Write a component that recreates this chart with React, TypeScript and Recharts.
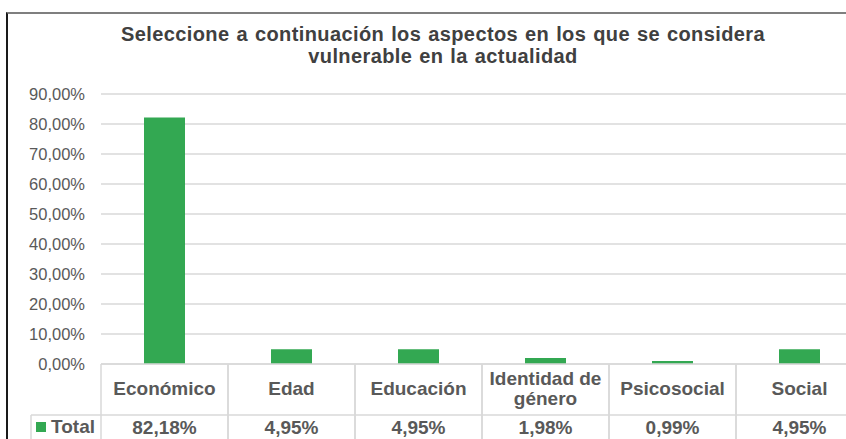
import React from "react";
import { BarChart, Bar, XAxis, YAxis, CartesianGrid } from "recharts";

const title = ["Seleccione a continuación los aspectos en los que se considera", "vulnerable en la actualidad"];
const categories = ["Económico", "Edad", "Educación", "Identidad de género", "Psicosocial", "Social"];
const categoryLines = [["Económico"], ["Edad"], ["Educación"], ["Identidad de", "género"], ["Psicosocial"], ["Social"]];
const seriesName = "Total";
const totals = [0.8218, 0.0495, 0.0495, 0.0198, 0.0099, 0.0495];
const yTicks = [0, 0.1, 0.2, 0.3, 0.4, 0.5, 0.6, 0.7, 0.8, 0.9];

const GREEN = "#33a852";
const GRID = "#d9d9d9";
const TEXT = "#595959";
const FONT = "'Liberation Sans', Arial, sans-serif";

const data = categories.map((c, i) => ({ name: c, value: totals[i] }));

const fmtPct = (v: number) => (v * 100).toFixed(2).replace(".", ",") + "%";

const TableTick = (props: any) => {
  const { x, y, payload, index } = props;
  const half = payload && payload.offset ? payload.offset : 63.5;
  const left = x - half;
  const right = x + half;
  const rowY = y + 51;
  const bottom = y + 120;
  const lines = categoryLines[index] || [String(payload.value)];
  const multi = lines.length > 1;
  return (
    <g>
      <line x1={left} x2={left} y1={y} y2={bottom} stroke={GRID} strokeWidth={1.5} />
      <line x1={right} x2={right} y1={y} y2={bottom} stroke={GRID} strokeWidth={1.5} />
      <line x1={left} x2={right} y1={rowY} y2={rowY} stroke={GRID} strokeWidth={1.5} />
      {lines.map((l: string, k: number) => (
        <text
          key={k}
          x={x}
          y={multi ? y + 21 + k * 20 : y + 31}
          textAnchor="middle"
          fill={TEXT}
          fontFamily={FONT}
          fontWeight="bold"
          fontSize={19}
        >
          {l}
        </text>
      ))}
      <text x={x} y={y + 70} textAnchor="middle" fill={TEXT} fontFamily={FONT} fontWeight="bold" fontSize={19}>
        {fmtPct(totals[index])}
      </text>
      {index === 0 && (
        <g>
          <line x1={31} x2={left} y1={rowY} y2={rowY} stroke={GRID} strokeWidth={1.5} />
          <line x1={31} x2={31} y1={rowY} y2={bottom} stroke={GRID} strokeWidth={1.5} />
          <rect x={36} y={y + 58} width={10} height={10} fill={GREEN} />
          <text x={51} y={y + 69} fill={TEXT} fontFamily={FONT} fontWeight="bold" fontSize={19}>
            {seriesName}
          </text>
        </g>
      )}
    </g>
  );
};

const YTick = (props: any) => {
  const { x, y, payload } = props;
  return (
    <text x={x} y={y} dy={6} textAnchor="end" fill={TEXT} fontFamily={FONT} fontSize={16.5}>
      {fmtPct(payload.value)}
    </text>
  );
};

export default function App() {
  return (
    <div
      style={{
        position: "fixed",
        left: 0,
        top: 0,
        width: 846,
        height: 439,
        overflow: "hidden",
        background: "#fff",
      }}
    >
      <div
        style={{
          position: "absolute",
          left: 6,
          top: 12,
          width: 900,
          height: 440,
          borderTop: "2px solid #7f7f7f",
          borderLeft: "2px solid #1a1a1a",
        }}
      />
      <div
        style={{
          position: "absolute",
          left: 143,
          top: 23,
          width: 600,
          textAlign: "center",
          fontFamily: FONT,
          fontWeight: "bold",
          fontSize: 20,
          lineHeight: "22px",
          letterSpacing: 0.4,
          wordSpacing: 1,
          color: "#404040",
          whiteSpace: "nowrap",
          display: "flex",
          flexDirection: "column",
          alignItems: "center",
        }}
      >
        {title.map((t, i) => (
          <div key={i}>{t}</div>
        ))}
      </div>
      <div style={{ position: "absolute", left: 0, top: 0 }}>
        <BarChart
          width={900}
          height={460}
          data={data}
          margin={{ top: 94, right: 37, bottom: 0, left: 0 }}
        >
          <CartesianGrid vertical={false} stroke={GRID} strokeWidth={1.5} />
          <XAxis
            dataKey="name"
            interval={0}
            tickLine={false}
            tickSize={0}
            tickMargin={0}
            axisLine={{ stroke: GRID, strokeWidth: 1.5 }}
            height={96}
            tick={<TableTick />}
          />
          <YAxis
            domain={[0, 0.9]}
            ticks={yTicks}
            width={101}
            axisLine={false}
            tickLine={false}
            tickSize={0}
            tickMargin={16}
            tick={<YTick />}
          />
          <Bar dataKey="value" name={seriesName} fill={GREEN} barSize={41} isAnimationActive={false} />
        </BarChart>
      </div>
    </div>
  );
}
